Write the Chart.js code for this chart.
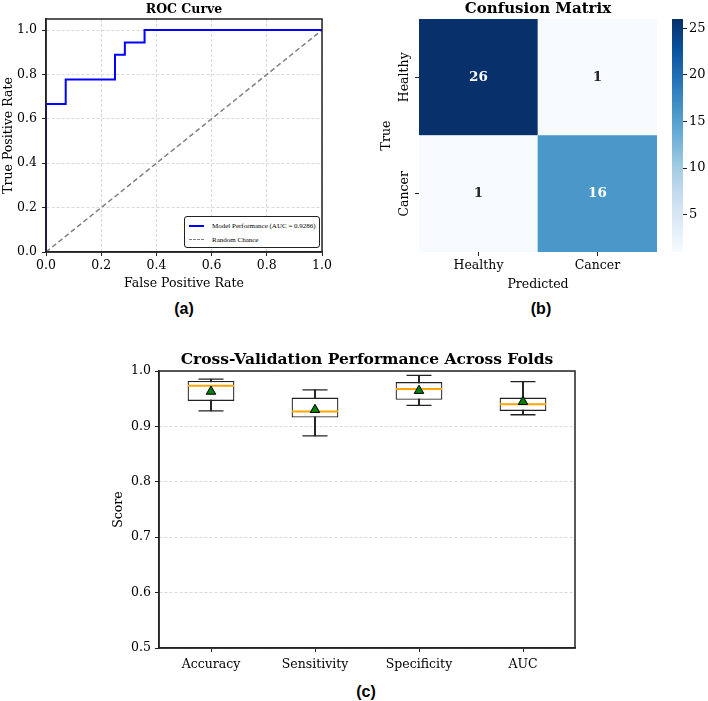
<!DOCTYPE html>
<html>
<head>
<meta charset="utf-8">
<title>Model evaluation</title>
<script src="https://cdn.jsdelivr.net/npm/chart.js@4.4.0/dist/chart.umd.min.js"></script>
<style>
  body { margin: 0; background: #fff; }
  #page { position: relative; width: 708px; height: 701px; overflow: hidden; background: #fff; }
  #page canvas { position: absolute; }
  .tag { position: absolute; font-family: "Liberation Sans", Arial, sans-serif; font-weight: bold; font-size: 16px; color: #000; transform: translate(-50%, -50%); }
  #rocLegend { position: absolute; left: 184px; top: 216px; width: 134px; height: 30px; border: 1px solid #222; border-radius: 3px; background: #fff;
    font-family: "Liberation Serif", "Times New Roman", serif; font-size: 7px; color: #000; white-space: nowrap; }
  #rocLegend div { position: absolute; left: 27px; line-height: 8px; }
  #rocLegend span { position: absolute; left: 4px; width: 15px; height: 0; }
</style>
</head>
<body>
<div id="page">
  <canvas id="roc" width="340" height="295" style="left:0;top:0"></canvas>
  <canvas id="cm" width="330" height="295" style="left:340px;top:0"></canvas>
  <canvas id="cbar" width="48" height="295" style="left:660px;top:0"></canvas>
  <canvas id="cv" width="500" height="345" style="left:100px;top:335px"></canvas>
  <div id="rocLegend">
    <span style="top:8px;border-top:2px solid #0000ff"></span><div id="legModel" style="top:5px"></div>
    <span style="top:22px;border-top:1.5px dashed #808080"></span><div id="legChance" style="top:19px"></div>
  </div>
  <div class="tag" style="left:184px;top:309px">(a)</div>
  <div class="tag" style="left:541px;top:309px">(b)</div>
  <div class="tag" style="left:366px;top:692px">(c)</div>
</div>
<script>
// ROC curve
const rocFpr = [0, 0, 0.0714, 0.0714, 0.25, 0.25, 0.2857, 0.2857, 0.3571, 0.3571, 1.0];
const rocTpr = [0, 0.6667, 0.6667, 0.7778, 0.7778, 0.8889, 0.8889, 0.9444, 0.9444, 1.0, 1.0];
const rocAuc = 0.9286;
const chanceLine = [0, 1];
const rocTicks = [0, 0.2, 0.4, 0.6, 0.8, 1.0];

// confusion matrix (rows = true, cols = predicted)
const cmLabels = ['Healthy', 'Cancer'];
const cmHealthyRow = [26, 1];
const cmCancerRow = [1, 16];
const cbarTicks = [5, 10, 15, 20, 25];

// cross validation folds
const cvMetrics = ['Accuracy', 'Sensitivity', 'Specificity', 'AUC'];
const cvWhiskerLow = [0.928, 0.883, 0.938, 0.921];
const cvQ1 = [0.946, 0.916, 0.948, 0.928];
const cvMedian = [0.9735, 0.927, 0.9675, 0.940];
const cvQ3 = [0.982, 0.952, 0.980, 0.952];
const cvWhiskerHigh = [0.9855, 0.966, 0.992, 0.981];
const cvMean = [0.963, 0.930, 0.9645, 0.9446];
const cvTicks = [0.5, 0.6, 0.7, 0.8, 0.9, 1.0];

const SERIF = '"DejaVu Serif", serif';
const tickFont = { family: SERIF, size: 12.5 };
const gridGrey = '#d9d9d9';

document.getElementById('legModel').textContent = 'Model Performance (AUC = ' + rocAuc.toFixed(4) + ')';
document.getElementById('legChance').textContent = 'Random Chance';

// seaborn "Blues"
const blues = ['#f7fbff', '#deebf7', '#c6dbef', '#9ecae1', '#6baed6', '#4292c6', '#2171b5', '#08519c', '#08306b'];
function hexRgb(h) { return [1, 3, 5].map(i => parseInt(h.substr(i, 2), 16)); }
function bluesAt(t) {
    t = Math.min(1, Math.max(0, t)) * (blues.length - 1);
    const i = Math.min(Math.floor(t), blues.length - 2);
    const f = t - i;
    const a = hexRgb(blues[i]), b = hexRgb(blues[i + 1]);
    const c = a.map((v, k) => Math.round(v + (b[k] - v) * f));
    return `rgb(${c[0]},${c[1]},${c[2]})`;
}
const cmAll = cmHealthyRow.concat(cmCancerRow);
const cmMin = Math.min(...cmAll), cmMax = Math.max(...cmAll);
const cellColor = v => bluesAt((v - cmMin) / (cmMax - cmMin));

const framePlugin = {
    id: 'frame',
    afterDraw(chart) {
        const { ctx, chartArea: a } = chart;
        ctx.save();
        ctx.strokeStyle = '#222';
        ctx.lineWidth = 1.5;
        ctx.strokeRect(a.left, a.top, a.right - a.left, a.bottom - a.top);
        ctx.restore();
    }
};

const fixTicks = list => scale => { scale.ticks = list.map(v => ({ value: v })); };

// (a) ROC
new Chart(document.getElementById('roc'), {
    type: 'line',
    data: {
        datasets: [{
            label: 'Model Performance',
            data: rocFpr.map((x, i) => ({ x: x, y: rocTpr[i] })),
            borderColor: '#0000ff',
            borderWidth: 2,
            pointRadius: 0,
            tension: 0
        }, {
            label: 'Random Chance',
            data: chanceLine.map(v => ({ x: v, y: v })),
            borderColor: '#808080',
            borderWidth: 1.5,
            borderDash: [5, 3],
            pointRadius: 0
        }]
    },
    options: {
        responsive: false,
        animation: false,
        layout: { padding: { left: 0, right: 18, top: 0, bottom: 0 } },
        plugins: {
            legend: { display: false },
            tooltip: { enabled: false },
            title: { display: true, fullSize: false, text: 'ROC Curve', font: { family: SERIF, size: 12.5, weight: 'bold' }, color: '#000', padding: { top: 2, bottom: 2 } }
        },
        scales: {
            x: {
                type: 'linear', min: 0, max: 1,
                afterBuildTicks: fixTicks(rocTicks),
                afterFit: s => { s.height = 43; },
                ticks: { font: tickFont, color: '#000', padding: 2, callback: v => v.toFixed(1) },
                grid: { color: gridGrey, tickColor: '#222', tickLength: 4 },
                border: { color: '#222', width: 1.5, dash: [3, 2] },
                title: { display: true, text: 'False Positive Rate', font: tickFont, color: '#000', padding: { bottom: 3.5 } }
            },
            y: {
                type: 'linear', min: 0, max: 1.05,
                afterBuildTicks: fixTicks(rocTicks),
                afterFit: s => { s.width = 46; },
                ticks: { font: tickFont, color: '#000', padding: 5, callback: v => v.toFixed(1) },
                grid: { color: gridGrey, tickColor: '#222', tickLength: 4 },
                border: { color: '#222', width: 1.5, dash: [3, 2] },
                title: { display: true, text: 'True Positive Rate', font: tickFont, color: '#000', padding: { top: 1 } }
            }
        }
    },
    plugins: [framePlugin]
});

// (b) confusion matrix, one stacked bar per predicted class
const cellText = {
    id: 'cellText',
    afterDatasetsDraw(chart) {
        const ctx = chart.ctx;
        ctx.save();
        ctx.font = 'bold 13.5px ' + SERIF;
        ctx.textAlign = 'center';
        ctx.textBaseline = 'middle';
        chart.data.datasets.forEach((ds, di) => {
            chart.getDatasetMeta(di).data.forEach((bar, i) => {
                const v = ds.counts[i];
                ctx.fillStyle = (v - cmMin) / (cmMax - cmMin) > 0.5 ? '#ffffff' : '#262626';
                ctx.fillText(String(v), bar.x, (bar.y + bar.base) / 2);
            });
        });
        // rotated row labels
        const y = chart.scales.y;
        ctx.font = '12.5px ' + SERIF;
        ctx.fillStyle = '#000';
        y.ticks.forEach(t => {
            ctx.save();
            ctx.translate(y.right - 14, y.getPixelForValue(t.value));
            ctx.rotate(-Math.PI / 2);
            ctx.fillText(t.value > 1 ? cmLabels[0] : cmLabels[1], 0, 0);
            ctx.restore();
        });
        ctx.restore();
    }
};

new Chart(document.getElementById('cm'), {
    type: 'bar',
    data: {
        labels: cmLabels,
        datasets: [{
            label: cmLabels[1],
            data: cmCancerRow.map(() => 1),
            counts: cmCancerRow,
            backgroundColor: cmCancerRow.map(cellColor)
        }, {
            label: cmLabels[0],
            data: cmHealthyRow.map(() => 1),
            counts: cmHealthyRow,
            backgroundColor: cmHealthyRow.map(cellColor)
        }]
    },
    options: {
        responsive: false,
        animation: false,
        layout: { padding: { left: 0, right: 13, top: 0, bottom: 0 } },
        datasets: { bar: { barPercentage: 1, categoryPercentage: 1, borderWidth: 0 } },
        plugins: {
            legend: { display: false },
            tooltip: { enabled: false },
            title: { display: true, fullSize: false, text: 'Confusion Matrix', font: { family: SERIF, size: 15, weight: 'bold' }, color: '#000', padding: { top: 0, bottom: 1 } }
        },
        scales: {
            x: {
                stacked: true,
                afterFit: s => { s.height = 43; },
                ticks: { font: tickFont, color: '#000', padding: 2 },
                grid: { offset: false, drawOnChartArea: false, tickColor: '#222', tickLength: 4 },
                border: { display: false },
                title: { display: true, text: 'Predicted', font: tickFont, color: '#000', padding: { bottom: 3 } }
            },
            y: {
                stacked: true, min: 0, max: 2,
                afterBuildTicks: fixTicks([0.5, 1.5]),
                afterFit: s => { s.width = 79; },
                ticks: { display: false },
                grid: { drawOnChartArea: false, tickColor: '#222', tickLength: 4 },
                border: { display: false },
                title: { display: true, text: 'True', font: tickFont, color: '#000', padding: { top: 39.5 } }
            }
        }
    },
    plugins: [cellText]
});

// colour bar
new Chart(document.getElementById('cbar'), {
    type: 'bar',
    data: {
        labels: [''],
        datasets: [{
            data: [[cmMin, cmMax]],
            backgroundColor: c => {
                const a = c.chart.chartArea;
                if (!a) return blues[4];
                const g = c.chart.ctx.createLinearGradient(0, a.bottom, 0, a.top);
                blues.forEach((col, i) => g.addColorStop(i / (blues.length - 1), col));
                return g;
            },
            barPercentage: 1,
            categoryPercentage: 1,
            borderWidth: 0
        }]
    },
    options: {
        responsive: false,
        animation: false,
        layout: { padding: { left: 12, right: 0, top: 19, bottom: 43 } },
        plugins: { legend: { display: false }, tooltip: { enabled: false } },
        scales: {
            x: { display: false },
            y: {
                position: 'right', min: cmMin, max: cmMax,
                afterBuildTicks: fixTicks(cbarTicks),
                afterFit: s => { s.width = 25; },
                ticks: { font: { family: SERIF, size: 13 }, color: '#000', padding: 2 },
                grid: { drawOnChartArea: false, tickColor: '#222', tickLength: 4 },
                border: { display: false }
            }
        }
    }
});

// (c) cross-validation box plots
new Chart(document.getElementById('cv'), {
    type: 'bar',
    data: {
        labels: cvMetrics,
        datasets: [{
            type: 'line', label: 'mean', data: cvMean, showLine: false,
            pointStyle: 'triangle', pointRadius: 5.5, backgroundColor: '#008000', borderColor: '#000', borderWidth: 1, order: 0
        }, {
            type: 'line', label: 'median', data: cvMedian, showLine: false,
            pointStyle: 'line', pointRadius: 23, borderColor: '#ffa500', borderWidth: 2, order: 1
        }, {
            type: 'line', label: 'cap high', data: cvWhiskerHigh, showLine: false,
            pointStyle: 'line', pointRadius: 12.5, borderColor: '#222', borderWidth: 1.3, order: 2
        }, {
            type: 'line', label: 'cap low', data: cvWhiskerLow, showLine: false,
            pointStyle: 'line', pointRadius: 12.5, borderColor: '#222', borderWidth: 1.3, order: 2
        }, {
            type: 'bar', label: 'box', data: cvQ1.map((q, i) => [q, cvQ3[i]]),
            backgroundColor: '#ffffff', borderColor: '#222', borderWidth: 1.3, borderSkipped: false,
            barPercentage: 0.45, categoryPercentage: 1, grouped: false, order: 3
        }, {
            type: 'bar', label: 'whisker', data: cvWhiskerLow.map((w, i) => [w, cvWhiskerHigh[i]]),
            backgroundColor: '#222', barThickness: 1.3, grouped: false, order: 4
        }]
    },
    options: {
        responsive: false,
        animation: false,
        layout: { padding: { left: 0, right: 15, top: 0, bottom: 0 } },
        plugins: {
            legend: { display: false },
            tooltip: { enabled: false },
            title: { display: true, fullSize: false, text: 'Cross-Validation Performance Across Folds', font: { family: SERIF, size: 15.5, weight: 'bold' }, color: '#000', padding: { top: 16, bottom: 1.4 } }
        },
        scales: {
            x: {
                afterFit: s => { s.height = 32; },
                ticks: { font: tickFont, color: '#000', padding: 5 },
                grid: { offset: false, drawOnChartArea: false, tickColor: '#222', tickLength: 4 },
                border: { color: '#222', width: 1.5 }
            },
            y: {
                min: 0.5, max: 1.0,
                afterBuildTicks: fixTicks(cvTicks),
                afterFit: s => { s.width = 59; },
                ticks: { font: tickFont, color: '#000', padding: 4, callback: v => v.toFixed(1) },
                grid: { color: gridGrey, tickColor: '#222', tickLength: 4 },
                border: { color: '#222', width: 1.5, dash: [3, 2] },
                title: { display: true, text: 'Score', font: tickFont, color: '#000', padding: { top: 11.5 } }
            }
        }
    },
    plugins: [framePlugin]
});
</script>
</body>
</html>
